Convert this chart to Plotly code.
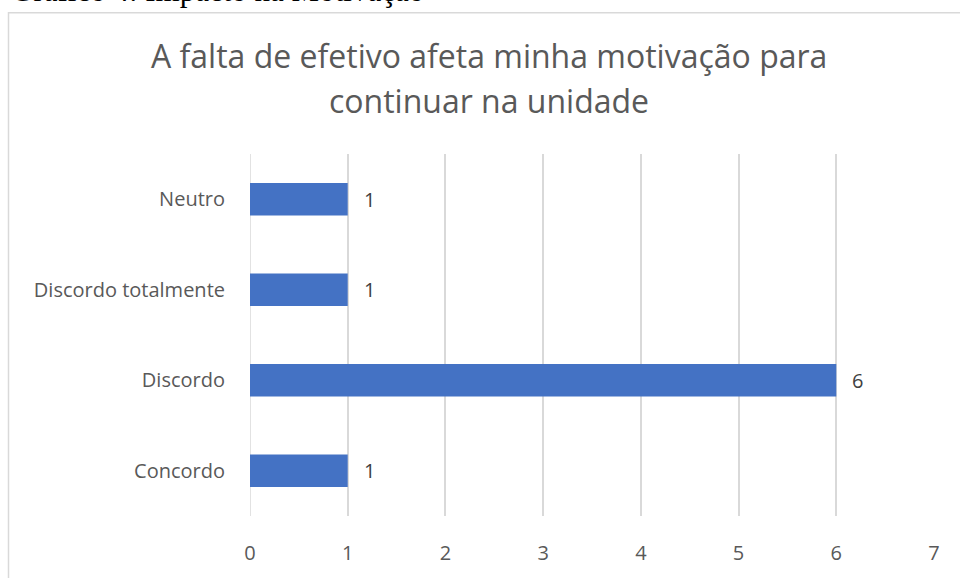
import plotly.graph_objects as go

categories = ["Concordo", "Discordo", "Discordo totalmente", "Neutro"]
values = [1, 6, 1, 1]
x_ticks = [0, 1, 2, 3, 4, 5, 6, 7]
title_lines = ["A falta de efetivo afeta minha motivação para", "continuar na unidade"]
caption_text = "Gráfico 4: Impacto na Motivação"

W, H = 960, 578
L, R, T, B = 250, 26, 154, 55
pw, ph = W - L - R, H - T - B

def px_x(p):
    return (p - L) / pw

def px_y(p):
    return 1 - (p - T) / ph

fig = go.Figure()
fig.add_trace(go.Bar(
    y=categories, x=values, orientation="h",
    marker=dict(color="#4472C4", line=dict(width=0)),
    hoverinfo="skip",
))

for c, v in zip(categories, values):
    fig.add_annotation(x=v, y=c, xref="x", yref="y", text=str(v), showarrow=False,
                       xanchor="left", xshift=14,
                       font=dict(family="Open Sans", size=20, color="#404040"))

for line, yc in zip(title_lines, [54, 99]):
    fig.add_annotation(x=px_x(488.5), y=px_y(yc), xref="paper", yref="paper", text=line,
                       showarrow=False, xanchor="center", yanchor="middle",
                       font=dict(family="Open Sans", size=32, color="#595959"))

fig.add_annotation(x=px_x(9), y=px_y(7), xref="paper", yref="paper", text=caption_text,
                   showarrow=False, xanchor="left", yanchor="bottom",
                   font=dict(family="Liberation Serif", size=31, color="#000000"))

fig.add_shape(type="rect", xref="paper", yref="paper",
              x0=px_x(8.5), x1=px_x(1000), y0=px_y(10), y1=px_y(620),
              line=dict(color="#d9d9d9", width=1.5), fillcolor="rgba(0,0,0,0)", layer="below")

fig.update_layout(
    width=W, height=H,
    margin=dict(l=L, r=R, t=T, b=B),
    paper_bgcolor="white", plot_bgcolor="white",
    bargap=0.64,
    showlegend=False,
    xaxis=dict(range=[0, 7], tickvals=x_ticks, showgrid=True, gridcolor="#d9d9d9", gridwidth=1.5,
               zeroline=False, showline=False, ticks="", ticklabelstandoff=23,
               tickfont=dict(family="Open Sans", size=20, color="#595959")),
    yaxis=dict(categoryorder="array", categoryarray=categories, showgrid=False, zeroline=False,
               showline=False, ticks="", ticklabelstandoff=24,
               tickfont=dict(family="Open Sans", size=20, color="#595959")),
)
fig.add_vline(x=0, line=dict(color="#d9d9d9", width=1.5), layer="below")

fig.write_html("out.html", config={"displayModeBar": False},
               post_script="document.body.style.margin='0';")
